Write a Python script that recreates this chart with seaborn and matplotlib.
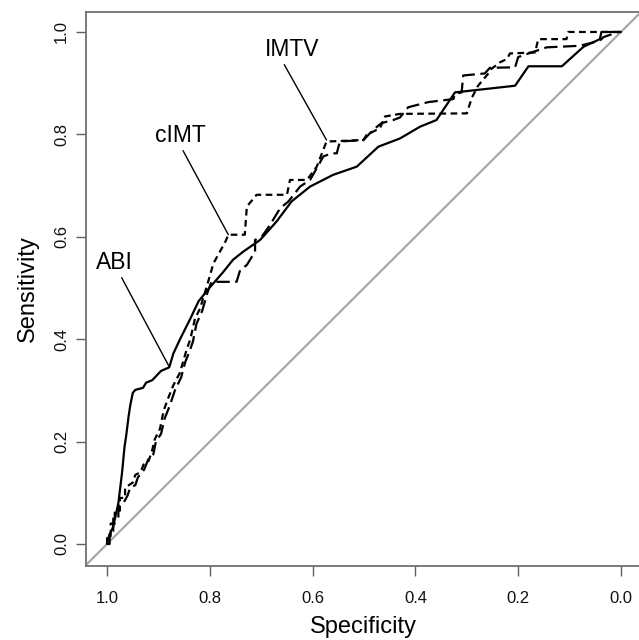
import matplotlib
matplotlib.use('Agg')
import matplotlib.pyplot as plt
import numpy as np
import pandas as pd
import seaborn as sns

# ROC curves (specificity, sensitivity)
abi_spec = [1.0, 0.998, 0.988, 0.978, 0.971, 0.966, 0.963, 0.958, 0.955, 0.950, 0.945, 0.930,
            0.924, 0.912, 0.895, 0.879, 0.871, 0.858, 0.838, 0.822, 0.801, 0.775, 0.755, 0.735,
            0.702, 0.670, 0.641, 0.605, 0.560, 0.514, 0.472, 0.430, 0.391, 0.359, 0.323, 0.206,
            0.180, 0.115, 0.073, 0.041, 0.038, 0.0]
abi_sens = [0.0, 0.011, 0.034, 0.080, 0.138, 0.190, 0.210, 0.250, 0.270, 0.295, 0.301, 0.305,
            0.315, 0.320, 0.338, 0.345, 0.372, 0.400, 0.440, 0.474, 0.500, 0.530, 0.555, 0.571,
            0.594, 0.630, 0.669, 0.698, 0.721, 0.737, 0.776, 0.792, 0.815, 0.828, 0.882, 0.895,
            0.933, 0.933, 0.971, 0.986, 1.0, 1.0]

cimt_spec = [1.0, 1.0, 0.993, 0.993, 0.985, 0.985, 0.975, 0.975, 0.965, 0.965, 0.950, 0.945,
             0.935, 0.929, 0.920, 0.913, 0.907, 0.897, 0.890, 0.881, 0.871, 0.858, 0.851, 0.845,
             0.838, 0.829, 0.819, 0.806, 0.793, 0.770, 0.764, 0.732, 0.728, 0.709, 0.650, 0.644,
             0.611, 0.592, 0.573, 0.501, 0.495, 0.469, 0.459, 0.430, 0.300, 0.290, 0.278, 0.258,
             0.252, 0.235, 0.222, 0.216, 0.167, 0.161, 0.106, 0.1025, 0.0]
cimt_sens = [0.0, 0.015, 0.015, 0.040, 0.040, 0.065, 0.065, 0.090, 0.090, 0.110, 0.120, 0.135,
             0.140, 0.155, 0.160, 0.180, 0.205, 0.225, 0.260, 0.285, 0.310, 0.335, 0.360, 0.380,
             0.400, 0.440, 0.460, 0.503, 0.548, 0.590, 0.604, 0.604, 0.659, 0.682, 0.682, 0.711,
             0.711, 0.737, 0.786, 0.789, 0.799, 0.812, 0.835, 0.840, 0.841, 0.872, 0.895, 0.919,
             0.928, 0.941, 0.947, 0.958, 0.960, 0.986, 0.986, 1.0, 1.0]

imtv_spec = [1.0, 0.995, 0.995, 0.988, 0.988, 0.978, 0.978, 0.968, 0.960, 0.955, 0.945, 0.940,
             0.928, 0.920, 0.910, 0.905, 0.895, 0.888, 0.878, 0.868, 0.856, 0.848, 0.840, 0.833,
             0.826, 0.815, 0.805, 0.797, 0.748, 0.741, 0.728, 0.712, 0.712, 0.699, 0.683, 0.663,
             0.647, 0.6245, 0.605, 0.592, 0.579, 0.563, 0.553, 0.547, 0.501, 0.482, 0.466, 0.443,
             0.430, 0.414, 0.375, 0.326, 0.323, 0.310, 0.307, 0.265, 0.255, 0.206, 0.200, 0.183,
             0.1445, 0.080, 0.041, 0.034, 0.005, 0.0]
imtv_sens = [0.0, 0.0, 0.025, 0.025, 0.050, 0.050, 0.075, 0.080, 0.095, 0.110, 0.115, 0.130,
             0.145, 0.165, 0.175, 0.200, 0.215, 0.245, 0.270, 0.300, 0.325, 0.355, 0.375, 0.395,
             0.430, 0.455, 0.490, 0.512, 0.512, 0.535, 0.545, 0.571, 0.594, 0.600, 0.623, 0.656,
             0.669, 0.698, 0.711, 0.734, 0.757, 0.763, 0.763, 0.786, 0.789, 0.809, 0.822, 0.828,
             0.833, 0.853, 0.863, 0.869, 0.879, 0.882, 0.915, 0.919, 0.930, 0.931, 0.951, 0.957,
             0.970, 0.973, 0.983, 0.990, 1.0, 1.0]

curve_names = ['IMTV', 'cIMT', 'ABI']
tick_vals = [0.0, 0.2, 0.4, 0.6, 0.8, 1.0]
tick_labels = ['0.0', '0.2', '0.4', '0.6', '0.8', '1.0']

# label positions and the point each leader line touches
label_xy = {'ABI': (0.986, 0.549), 'cIMT': (0.858, 0.797), 'IMTV': (0.640, 0.965)}
tip_xy = {'ABI': (0.879, 0.346), 'cIMT': (0.764, 0.604), 'IMTV': (0.573, 0.789)}
rel_start = {'ABI': (0.62, 0.1), 'cIMT': (0.5, 0.1), 'IMTV': (0.3, 0.1)}

df = pd.concat([
    pd.DataFrame({'spec': imtv_spec, 'sens': imtv_sens, 'marker': 'IMTV'}),
    pd.DataFrame({'spec': cimt_spec, 'sens': cimt_sens, 'marker': 'cIMT'}),
    pd.DataFrame({'spec': abi_spec, 'sens': abi_sens, 'marker': 'ABI'}),
], ignore_index=True)

sns.set_style('white')
plt.rcParams['font.family'] = ['Liberation Sans', 'DejaVu Sans']
plt.rcParams['text.color'] = 'black'

fig = plt.figure(figsize=(6.39, 6.40), dpi=100)
ax = fig.add_axes([86 / 639, 74 / 640, 555 / 639, 554 / 640])

ax.axline((1, 0), (0, 1), color='#a8a8a8', lw=1.6, zorder=1)

sns.lineplot(data=df, x='spec', y='sens', style='marker', style_order=curve_names,
             dashes={'ABI': '', 'cIMT': (3, 2), 'IMTV': (6, 2.5)},
             color='black', linewidth=1.6, estimator=None, sort=False,
             legend=False, ax=ax, zorder=3)

for name in curve_names:
    ax.annotate(name, xy=tip_xy[name], xytext=label_xy[name], fontsize=16.5,
                ha='center', va='center', color='black',
                arrowprops=dict(arrowstyle='-', color='black', lw=1.0,
                                shrinkA=0, shrinkB=0, relpos=rel_start[name]))

ax.set_xlim(1.041, -0.039)
ax.set_ylim(-0.043, 1.039)
ax.set_xticks(tick_vals)
ax.set_xticklabels(tick_labels)
ax.set_yticks(tick_vals)
ax.set_yticklabels(tick_labels, rotation=90, va='center')
ax.tick_params(axis='both', direction='out', length=7.2, width=1.0, color='#606060',
               labelsize=12, labelcolor='#111111', bottom=True, left=True)
ax.tick_params(axis='x', pad=11)
ax.tick_params(axis='y', pad=5)
for s in ax.spines.values():
    s.set_color('#707070')
    s.set_linewidth(1.3)

ax.set_xlabel('Specificity', fontsize=17, labelpad=7, color='black')
ax.set_ylabel('Sensitivity', fontsize=17, labelpad=11, color='black')

fig.savefig('out.png', dpi=100)
